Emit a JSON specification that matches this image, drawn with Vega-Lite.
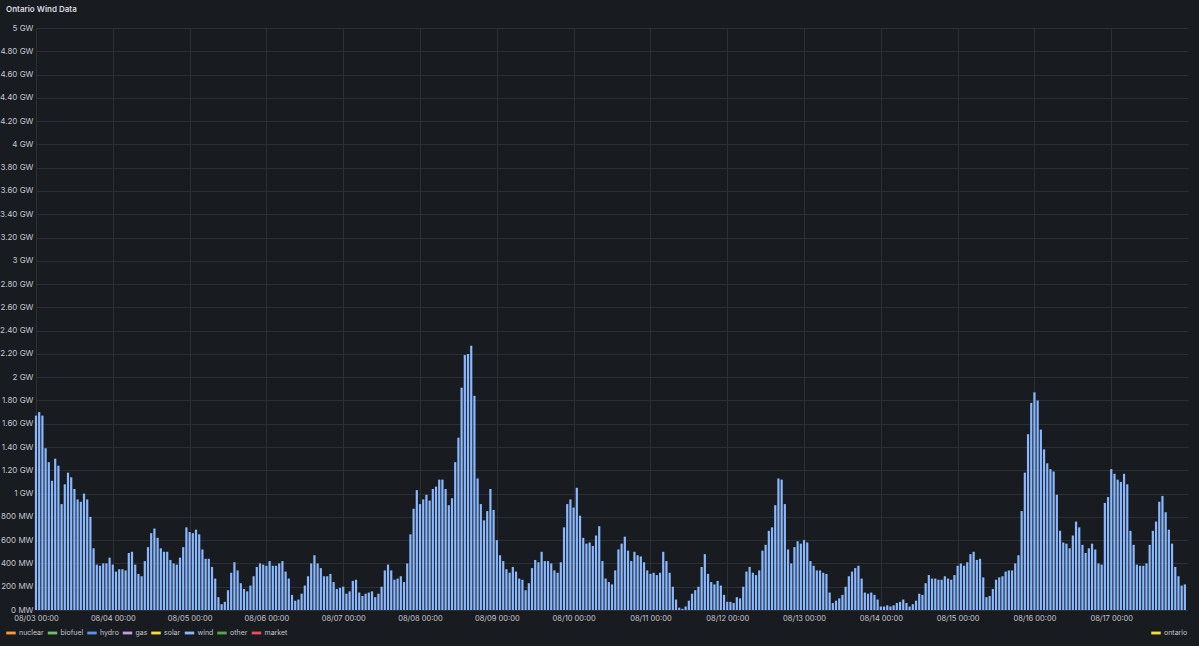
{
  "$schema": "https://vega.github.io/schema/vega-lite/v6.json",
  "width": 1152,
  "height": 582,
  "autosize": {"type": "none"},
  "padding": {"left": 36, "top": 28, "right": 11, "bottom": 36},
  "background": "#181b1f",
  "title": {"text": "Ontario Wind Data", "anchor": "start", "frame": "group", "dx": -30, "offset": 10, "fontSize": 8, "fontWeight": 600, "color": "#d8d9e0", "font": "Inter"},
  "config": {
    "font": "Inter",
    "view": {"stroke": null},
    "axis": {"gridColor": "#2c2f34", "gridWidth": 1, "domain": false, "ticks": false, "labelColor": "#c4c5cf", "labelFont": "Inter", "labelFontSize": 8, "title": null}
  },
  "datasets": {
    "wind": [
      {"t":"2024-08-03T00:00","mw":1670},{"t":"2024-08-03T01:00","mw":1700},{"t":"2024-08-03T02:00","mw":1670},{"t":"2024-08-03T03:00","mw":1390},{"t":"2024-08-03T04:00","mw":1270},{"t":"2024-08-03T05:00","mw":1110},{"t":"2024-08-03T06:00","mw":1300},{"t":"2024-08-03T07:00","mw":1240},{"t":"2024-08-03T08:00","mw":910},{"t":"2024-08-03T09:00","mw":1080},{"t":"2024-08-03T10:00","mw":1180},{"t":"2024-08-03T11:00","mw":1140},{"t":"2024-08-03T12:00","mw":1040},{"t":"2024-08-03T13:00","mw":950},{"t":"2024-08-03T14:00","mw":930},{"t":"2024-08-03T15:00","mw":1000},{"t":"2024-08-03T16:00","mw":950},{"t":"2024-08-03T17:00","mw":800},{"t":"2024-08-03T18:00","mw":530},{"t":"2024-08-03T19:00","mw":390},{"t":"2024-08-03T20:00","mw":380},{"t":"2024-08-03T21:00","mw":400},{"t":"2024-08-03T22:00","mw":400},{"t":"2024-08-03T23:00","mw":450},
      {"t":"2024-08-04T00:00","mw":390},{"t":"2024-08-04T01:00","mw":330},{"t":"2024-08-04T02:00","mw":350},{"t":"2024-08-04T03:00","mw":350},{"t":"2024-08-04T04:00","mw":340},{"t":"2024-08-04T05:00","mw":490},{"t":"2024-08-04T06:00","mw":500},{"t":"2024-08-04T07:00","mw":390},{"t":"2024-08-04T08:00","mw":310},{"t":"2024-08-04T09:00","mw":290},{"t":"2024-08-04T10:00","mw":420},{"t":"2024-08-04T11:00","mw":540},{"t":"2024-08-04T12:00","mw":660},{"t":"2024-08-04T13:00","mw":700},{"t":"2024-08-04T14:00","mw":620},{"t":"2024-08-04T15:00","mw":530},{"t":"2024-08-04T16:00","mw":500},{"t":"2024-08-04T17:00","mw":500},{"t":"2024-08-04T18:00","mw":430},{"t":"2024-08-04T19:00","mw":400},{"t":"2024-08-04T20:00","mw":390},{"t":"2024-08-04T21:00","mw":450},{"t":"2024-08-04T22:00","mw":540},{"t":"2024-08-04T23:00","mw":710},
      {"t":"2024-08-05T00:00","mw":670},{"t":"2024-08-05T01:00","mw":660},{"t":"2024-08-05T02:00","mw":690},{"t":"2024-08-05T03:00","mw":650},{"t":"2024-08-05T04:00","mw":520},{"t":"2024-08-05T05:00","mw":440},{"t":"2024-08-05T06:00","mw":440},{"t":"2024-08-05T07:00","mw":370},{"t":"2024-08-05T08:00","mw":270},{"t":"2024-08-05T09:00","mw":110},{"t":"2024-08-05T10:00","mw":50},{"t":"2024-08-05T11:00","mw":70},{"t":"2024-08-05T12:00","mw":170},{"t":"2024-08-05T13:00","mw":320},{"t":"2024-08-05T14:00","mw":410},{"t":"2024-08-05T15:00","mw":340},{"t":"2024-08-05T16:00","mw":230},{"t":"2024-08-05T17:00","mw":180},{"t":"2024-08-05T18:00","mw":160},{"t":"2024-08-05T19:00","mw":210},{"t":"2024-08-05T20:00","mw":290},{"t":"2024-08-05T21:00","mw":370},{"t":"2024-08-05T22:00","mw":400},{"t":"2024-08-05T23:00","mw":390},
      {"t":"2024-08-06T00:00","mw":380},{"t":"2024-08-06T01:00","mw":420},{"t":"2024-08-06T02:00","mw":380},{"t":"2024-08-06T03:00","mw":380},{"t":"2024-08-06T04:00","mw":400},{"t":"2024-08-06T05:00","mw":420},{"t":"2024-08-06T06:00","mw":330},{"t":"2024-08-06T07:00","mw":270},{"t":"2024-08-06T08:00","mw":130},{"t":"2024-08-06T09:00","mw":80},{"t":"2024-08-06T10:00","mw":90},{"t":"2024-08-06T11:00","mw":140},{"t":"2024-08-06T12:00","mw":210},{"t":"2024-08-06T13:00","mw":290},{"t":"2024-08-06T14:00","mw":400},{"t":"2024-08-06T15:00","mw":470},{"t":"2024-08-06T16:00","mw":400},{"t":"2024-08-06T17:00","mw":360},{"t":"2024-08-06T18:00","mw":290},{"t":"2024-08-06T19:00","mw":290},{"t":"2024-08-06T20:00","mw":310},{"t":"2024-08-06T21:00","mw":240},{"t":"2024-08-06T22:00","mw":180},{"t":"2024-08-06T23:00","mw":190},
      {"t":"2024-08-07T00:00","mw":200},{"t":"2024-08-07T01:00","mw":140},{"t":"2024-08-07T02:00","mw":160},{"t":"2024-08-07T03:00","mw":250},{"t":"2024-08-07T04:00","mw":260},{"t":"2024-08-07T05:00","mw":150},{"t":"2024-08-07T06:00","mw":120},{"t":"2024-08-07T07:00","mw":140},{"t":"2024-08-07T08:00","mw":150},{"t":"2024-08-07T09:00","mw":160},{"t":"2024-08-07T10:00","mw":110},{"t":"2024-08-07T11:00","mw":140},{"t":"2024-08-07T12:00","mw":200},{"t":"2024-08-07T13:00","mw":340},{"t":"2024-08-07T14:00","mw":390},{"t":"2024-08-07T15:00","mw":340},{"t":"2024-08-07T16:00","mw":260},{"t":"2024-08-07T17:00","mw":270},{"t":"2024-08-07T18:00","mw":290},{"t":"2024-08-07T19:00","mw":240},{"t":"2024-08-07T20:00","mw":400},{"t":"2024-08-07T21:00","mw":650},{"t":"2024-08-07T22:00","mw":870},{"t":"2024-08-07T23:00","mw":1030},
      {"t":"2024-08-08T00:00","mw":910},{"t":"2024-08-08T01:00","mw":950},{"t":"2024-08-08T02:00","mw":990},{"t":"2024-08-08T03:00","mw":940},{"t":"2024-08-08T04:00","mw":1040},{"t":"2024-08-08T05:00","mw":1060},{"t":"2024-08-08T06:00","mw":1120},{"t":"2024-08-08T07:00","mw":1120},{"t":"2024-08-08T08:00","mw":1040},{"t":"2024-08-08T09:00","mw":900},{"t":"2024-08-08T10:00","mw":960},{"t":"2024-08-08T11:00","mw":1270},{"t":"2024-08-08T12:00","mw":1480},{"t":"2024-08-08T13:00","mw":1910},{"t":"2024-08-08T14:00","mw":2190},{"t":"2024-08-08T15:00","mw":2200},{"t":"2024-08-08T16:00","mw":2270},{"t":"2024-08-08T17:00","mw":1840},{"t":"2024-08-08T18:00","mw":1130},{"t":"2024-08-08T19:00","mw":910},{"t":"2024-08-08T20:00","mw":770},{"t":"2024-08-08T21:00","mw":850},{"t":"2024-08-08T22:00","mw":1040},{"t":"2024-08-08T23:00","mw":860},
      {"t":"2024-08-09T00:00","mw":600},{"t":"2024-08-09T01:00","mw":470},{"t":"2024-08-09T02:00","mw":420},{"t":"2024-08-09T03:00","mw":350},{"t":"2024-08-09T04:00","mw":320},{"t":"2024-08-09T05:00","mw":370},{"t":"2024-08-09T06:00","mw":330},{"t":"2024-08-09T07:00","mw":270},{"t":"2024-08-09T08:00","mw":260},{"t":"2024-08-09T09:00","mw":170},{"t":"2024-08-09T10:00","mw":230},{"t":"2024-08-09T11:00","mw":360},{"t":"2024-08-09T12:00","mw":430},{"t":"2024-08-09T13:00","mw":410},{"t":"2024-08-09T14:00","mw":500},{"t":"2024-08-09T15:00","mw":420},{"t":"2024-08-09T16:00","mw":420},{"t":"2024-08-09T17:00","mw":400},{"t":"2024-08-09T18:00","mw":340},{"t":"2024-08-09T19:00","mw":320},{"t":"2024-08-09T20:00","mw":410},{"t":"2024-08-09T21:00","mw":710},{"t":"2024-08-09T22:00","mw":910},{"t":"2024-08-09T23:00","mw":950},
      {"t":"2024-08-10T00:00","mw":880},{"t":"2024-08-10T01:00","mw":1050},{"t":"2024-08-10T02:00","mw":810},{"t":"2024-08-10T03:00","mw":620},{"t":"2024-08-10T04:00","mw":570},{"t":"2024-08-10T05:00","mw":580},{"t":"2024-08-10T06:00","mw":550},{"t":"2024-08-10T07:00","mw":640},{"t":"2024-08-10T08:00","mw":720},{"t":"2024-08-10T09:00","mw":420},{"t":"2024-08-10T10:00","mw":270},{"t":"2024-08-10T11:00","mw":240},{"t":"2024-08-10T12:00","mw":220},{"t":"2024-08-10T13:00","mw":340},{"t":"2024-08-10T14:00","mw":520},{"t":"2024-08-10T15:00","mw":570},{"t":"2024-08-10T16:00","mw":630},{"t":"2024-08-10T17:00","mw":510},{"t":"2024-08-10T18:00","mw":420},{"t":"2024-08-10T19:00","mw":500},{"t":"2024-08-10T20:00","mw":470},{"t":"2024-08-10T21:00","mw":460},{"t":"2024-08-10T22:00","mw":410},{"t":"2024-08-10T23:00","mw":340},
      {"t":"2024-08-11T00:00","mw":310},{"t":"2024-08-11T01:00","mw":320},{"t":"2024-08-11T02:00","mw":300},{"t":"2024-08-11T03:00","mw":320},{"t":"2024-08-11T04:00","mw":500},{"t":"2024-08-11T05:00","mw":420},{"t":"2024-08-11T06:00","mw":320},{"t":"2024-08-11T07:00","mw":200},{"t":"2024-08-11T08:00","mw":90},{"t":"2024-08-11T09:00","mw":20},{"t":"2024-08-11T10:00","mw":10},{"t":"2024-08-11T11:00","mw":30},{"t":"2024-08-11T12:00","mw":80},{"t":"2024-08-11T13:00","mw":140},{"t":"2024-08-11T14:00","mw":170},{"t":"2024-08-11T15:00","mw":200},{"t":"2024-08-11T16:00","mw":370},{"t":"2024-08-11T17:00","mw":480},{"t":"2024-08-11T18:00","mw":310},{"t":"2024-08-11T19:00","mw":240},{"t":"2024-08-11T20:00","mw":220},{"t":"2024-08-11T21:00","mw":250},{"t":"2024-08-11T22:00","mw":210},{"t":"2024-08-11T23:00","mw":130},
      {"t":"2024-08-12T00:00","mw":70},{"t":"2024-08-12T01:00","mw":70},{"t":"2024-08-12T02:00","mw":60},{"t":"2024-08-12T03:00","mw":110},{"t":"2024-08-12T04:00","mw":100},{"t":"2024-08-12T05:00","mw":200},{"t":"2024-08-12T06:00","mw":330},{"t":"2024-08-12T07:00","mw":370},{"t":"2024-08-12T08:00","mw":320},{"t":"2024-08-12T09:00","mw":300},{"t":"2024-08-12T10:00","mw":340},{"t":"2024-08-12T11:00","mw":510},{"t":"2024-08-12T12:00","mw":560},{"t":"2024-08-12T13:00","mw":680},{"t":"2024-08-12T14:00","mw":710},{"t":"2024-08-12T15:00","mw":900},{"t":"2024-08-12T16:00","mw":1130},{"t":"2024-08-12T17:00","mw":1120},{"t":"2024-08-12T18:00","mw":910},{"t":"2024-08-12T19:00","mw":520},{"t":"2024-08-12T20:00","mw":400},{"t":"2024-08-12T21:00","mw":540},{"t":"2024-08-12T22:00","mw":590},{"t":"2024-08-12T23:00","mw":570},
      {"t":"2024-08-13T00:00","mw":600},{"t":"2024-08-13T01:00","mw":580},{"t":"2024-08-13T02:00","mw":420},{"t":"2024-08-13T03:00","mw":380},{"t":"2024-08-13T04:00","mw":340},{"t":"2024-08-13T05:00","mw":340},{"t":"2024-08-13T06:00","mw":320},{"t":"2024-08-13T07:00","mw":310},{"t":"2024-08-13T08:00","mw":150},{"t":"2024-08-13T09:00","mw":60},{"t":"2024-08-13T10:00","mw":80},{"t":"2024-08-13T11:00","mw":100},{"t":"2024-08-13T12:00","mw":130},{"t":"2024-08-13T13:00","mw":200},{"t":"2024-08-13T14:00","mw":290},{"t":"2024-08-13T15:00","mw":330},{"t":"2024-08-13T16:00","mw":360},{"t":"2024-08-13T17:00","mw":380},{"t":"2024-08-13T18:00","mw":270},{"t":"2024-08-13T19:00","mw":150},{"t":"2024-08-13T20:00","mw":140},{"t":"2024-08-13T21:00","mw":150},{"t":"2024-08-13T22:00","mw":130},{"t":"2024-08-13T23:00","mw":90},
      {"t":"2024-08-14T00:00","mw":30},{"t":"2024-08-14T01:00","mw":30},{"t":"2024-08-14T02:00","mw":40},{"t":"2024-08-14T03:00","mw":30},{"t":"2024-08-14T04:00","mw":40},{"t":"2024-08-14T05:00","mw":60},{"t":"2024-08-14T06:00","mw":70},{"t":"2024-08-14T07:00","mw":90},{"t":"2024-08-14T08:00","mw":60},{"t":"2024-08-14T09:00","mw":30},{"t":"2024-08-14T10:00","mw":50},{"t":"2024-08-14T11:00","mw":80},{"t":"2024-08-14T12:00","mw":140},{"t":"2024-08-14T13:00","mw":130},{"t":"2024-08-14T14:00","mw":230},{"t":"2024-08-14T15:00","mw":300},{"t":"2024-08-14T16:00","mw":270},{"t":"2024-08-14T17:00","mw":270},{"t":"2024-08-14T18:00","mw":260},{"t":"2024-08-14T19:00","mw":260},{"t":"2024-08-14T20:00","mw":290},{"t":"2024-08-14T21:00","mw":270},{"t":"2024-08-14T22:00","mw":260},{"t":"2024-08-14T23:00","mw":300},
      {"t":"2024-08-15T00:00","mw":380},{"t":"2024-08-15T01:00","mw":400},{"t":"2024-08-15T02:00","mw":380},{"t":"2024-08-15T03:00","mw":410},{"t":"2024-08-15T04:00","mw":480},{"t":"2024-08-15T05:00","mw":500},{"t":"2024-08-15T06:00","mw":430},{"t":"2024-08-15T07:00","mw":440},{"t":"2024-08-15T08:00","mw":280},{"t":"2024-08-15T09:00","mw":110},{"t":"2024-08-15T10:00","mw":120},{"t":"2024-08-15T11:00","mw":180},{"t":"2024-08-15T12:00","mw":260},{"t":"2024-08-15T13:00","mw":280},{"t":"2024-08-15T14:00","mw":290},{"t":"2024-08-15T15:00","mw":330},{"t":"2024-08-15T16:00","mw":340},{"t":"2024-08-15T17:00","mw":340},{"t":"2024-08-15T18:00","mw":400},{"t":"2024-08-15T19:00","mw":470},{"t":"2024-08-15T20:00","mw":850},{"t":"2024-08-15T21:00","mw":1180},{"t":"2024-08-15T22:00","mw":1510},{"t":"2024-08-15T23:00","mw":1780},
      {"t":"2024-08-16T00:00","mw":1870},{"t":"2024-08-16T01:00","mw":1800},{"t":"2024-08-16T02:00","mw":1550},{"t":"2024-08-16T03:00","mw":1380},{"t":"2024-08-16T04:00","mw":1260},{"t":"2024-08-16T05:00","mw":1210},{"t":"2024-08-16T06:00","mw":1190},{"t":"2024-08-16T07:00","mw":990},{"t":"2024-08-16T08:00","mw":680},{"t":"2024-08-16T09:00","mw":580},{"t":"2024-08-16T10:00","mw":570},{"t":"2024-08-16T11:00","mw":530},{"t":"2024-08-16T12:00","mw":640},{"t":"2024-08-16T13:00","mw":760},{"t":"2024-08-16T14:00","mw":710},{"t":"2024-08-16T15:00","mw":560},{"t":"2024-08-16T16:00","mw":490},{"t":"2024-08-16T17:00","mw":530},{"t":"2024-08-16T18:00","mw":570},{"t":"2024-08-16T19:00","mw":520},{"t":"2024-08-16T20:00","mw":400},{"t":"2024-08-16T21:00","mw":390},{"t":"2024-08-16T22:00","mw":920},{"t":"2024-08-16T23:00","mw":970},
      {"t":"2024-08-17T00:00","mw":1210},{"t":"2024-08-17T01:00","mw":1170},{"t":"2024-08-17T02:00","mw":1120},{"t":"2024-08-17T03:00","mw":1100},{"t":"2024-08-17T04:00","mw":1170},{"t":"2024-08-17T05:00","mw":1080},{"t":"2024-08-17T06:00","mw":680},{"t":"2024-08-17T07:00","mw":560},{"t":"2024-08-17T08:00","mw":390},{"t":"2024-08-17T09:00","mw":380},{"t":"2024-08-17T10:00","mw":380},{"t":"2024-08-17T11:00","mw":400},{"t":"2024-08-17T12:00","mw":560},{"t":"2024-08-17T13:00","mw":680},{"t":"2024-08-17T14:00","mw":760},{"t":"2024-08-17T15:00","mw":930},{"t":"2024-08-17T16:00","mw":980},{"t":"2024-08-17T17:00","mw":840},{"t":"2024-08-17T18:00","mw":690},{"t":"2024-08-17T19:00","mw":570},{"t":"2024-08-17T20:00","mw":370},{"t":"2024-08-17T21:00","mw":290},{"t":"2024-08-17T22:00","mw":210},{"t":"2024-08-17T23:00","mw":220}
    ]
  },
  "layer": [
    {
      "data": {"name": "wind"},
      "mark": {"type": "bar", "size": 2.2, "strokeWidth": 0},
      "encoding": {
        "x": {"field": "t", "type": "temporal",
          "scale": {"domain": [{"year": 2024, "month": 8, "date": 3}, {"year": 2024, "month": 8, "date": 17, "hours": 23, "minutes": 59}], "nice": false, "padding": 0},
          "axis": {"format": "%m/%d %H:%M", "tickCount": {"interval": "day", "step": 1}, "labelFlush": false, "labelOverlap": false, "labelPadding": 4, "labelFontSize": 7.5, "grid": true}},
        "y": {"field": "mw", "type": "quantitative",
          "scale": {"domain": [0, 5000], "nice": false},
          "axis": {"values": [0,200,400,600,800,1000,1200,1400,1600,1800,2000,2200,2400,2600,2800,3000,3200,3400,3600,3800,4000,4200,4400,4600,4800,5000],
            "tickCount": 40, "labelOverlap": false,
            "labelExpr": "datum.value < 1000 ? datum.value + ' MW' : (datum.value % 1000 == 0 ? (datum.value / 1000) + ' GW' : format(datum.value / 1000, '.2f') + ' GW')",
            "labelPadding": 3, "grid": true}},
        "fill": {"datum": "wind",
          "scale": {"domain": ["nuclear", "biofuel", "hydro", "gas", "solar", "wind", "other", "market"],
                    "range": ["#FF9830", "#73BF69", "#5794F2", "#CA95E5", "#FADE2A", "#8AB8FF", "#56A64B", "#F2495C"]},
          "legend": {"orient": "none", "legendX": -30, "legendY": 600, "direction": "horizontal", "title": null,
            "symbolType": "M-1,-0.3H1V0.3H-1Z", "symbolSize": 90, "symbolStrokeWidth": 0, "symbolOpacity": 1,
            "labelColor": "#c4c5cf", "labelFontSize": 7, "labelFont": "Inter", "labelOffset": 3, "columnPadding": 3.5}}
      }
    },
    {
      "data": {"values": [{"t": null, "mw": null}]},
      "mark": {"type": "bar", "size": 2.2},
      "encoding": {
        "x": {"field": "t", "type": "temporal"},
        "y": {"field": "mw", "type": "quantitative"},
        "fill": {"datum": "ontario",
          "scale": {"domain": ["ontario"], "range": ["#FADE2A"]},
          "legend": {"orient": "none", "legendX": 1115, "legendY": 600, "direction": "horizontal", "title": null,
            "symbolType": "M-1,-0.3H1V0.3H-1Z", "symbolSize": 90, "symbolStrokeWidth": 0, "symbolOpacity": 1,
            "labelColor": "#c4c5cf", "labelFontSize": 7, "labelFont": "Inter", "labelOffset": 3}}
      }
    }
  ],
  "resolve": {"scale": {"fill": "independent"}}
}
